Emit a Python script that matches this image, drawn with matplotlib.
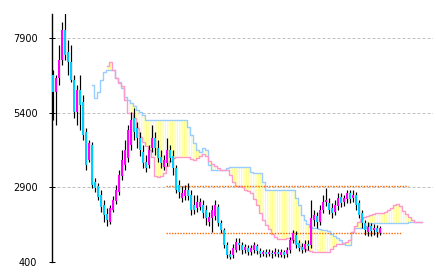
import matplotlib
matplotlib.use("Agg")
import matplotlib.pyplot as plt
import numpy as np

# candle prices, one per period
open_ = [6660, 6090, 6560, 7160, 8170, 7430, 7090, 6490, 5420, 6160,
         5750, 4750, 3810, 4320, 3080, 2940, 2640, 2310, 2010, 1740,
         2140, 2440, 2740, 3280, 3650, 3880, 4320, 5220, 4880, 4550,
         4080, 3750, 3650, 4220, 4550, 4220, 3910, 3580, 3710, 4150,
         3950, 3550, 2980, 2540, 2610, 2810, 2640, 2310, 2210, 2240,
         2310, 2140, 1740, 1870, 1940, 2240, 1710, 1470, 970, 670,
         630, 800, 1040, 970, 800, 870, 730, 800, 940, 770,
         670, 730, 670, 700, 670, 730, 630, 730, 670, 800,
         1140, 1300, 1040, 900, 830, 1000, 970, 1810, 1940, 1740,
         2140, 2410, 2380, 2210, 2070, 2270, 2580, 2410, 2510, 2710,
         2540, 2640, 2380, 2040, 1710, 1400, 1600, 1470, 1540, 1370]
close = [6090, 6560, 7160, 8170, 7330, 7090, 6490, 5420, 6160, 5650,
         4650, 3650, 4380, 2980, 2880, 2580, 2240, 1970, 1810, 2210,
         2480, 2810, 3310, 3810, 4150, 4820, 5150, 4750, 4550, 4150,
         3710, 3550, 4150, 4550, 4220, 3880, 3710, 3810, 4150, 3880,
         3550, 2810, 2740, 2710, 2810, 2610, 2140, 2140, 2410, 2410,
         2040, 1870, 1910, 2140, 2310, 1710, 1470, 970, 630, 570,
         870, 1070, 970, 800, 900, 730, 870, 970, 770, 670,
         730, 670, 730, 670, 730, 670, 730, 630, 800, 1140,
         1370, 970, 870, 800, 1000, 940, 1870, 1970, 1740, 2140,
         2410, 2480, 2140, 2040, 2310, 2540, 2380, 2540, 2710, 2510,
         2640, 2310, 1970, 1710, 1470, 1570, 1440, 1540, 1400, 1540]
high = [6830, 6660, 7660, 8430, 8730, 7830, 7660, 6660, 6320, 6660,
        5990, 4880, 4480, 4420, 3210, 3040, 2810, 2480, 2210, 2310,
        2610, 2980, 3480, 4150, 4480, 4990, 5420, 5550, 5090, 4750,
        4320, 3980, 4320, 4990, 4750, 4480, 4150, 3980, 4550, 4320,
        4150, 3650, 3140, 2940, 2980, 3040, 2810, 2640, 2640, 2540,
        2480, 2310, 2070, 2310, 2480, 2340, 1810, 1540, 1070, 800,
        1000, 1200, 1200, 1070, 1000, 970, 970, 1070, 1000, 870,
        800, 830, 830, 800, 870, 830, 830, 800, 900, 1240,
        1470, 1440, 1140, 1040, 1140, 1140, 2480, 2140, 2070, 2310,
        2640, 2880, 2540, 2380, 2480, 2710, 2710, 2640, 2810, 2810,
        2810, 2740, 2480, 2140, 1810, 1740, 1710, 1670, 1640, 1600]
low = [5150, 4990, 6320, 6990, 7160, 6660, 6420, 5220, 4990, 4820,
       4480, 3480, 3750, 2880, 2740, 2480, 2070, 1740, 1600, 1670,
       2070, 2340, 2640, 3140, 3480, 3750, 4150, 4480, 4220, 3950,
       3550, 3410, 3550, 4080, 3980, 3750, 3550, 3480, 3610, 3750,
       3310, 2710, 2540, 2410, 2480, 2480, 1970, 2010, 2070, 2140,
       1870, 1640, 1600, 1400, 1810, 1600, 1370, 870, 530, 500,
       530, 730, 800, 670, 700, 630, 630, 700, 670, 570,
       600, 570, 600, 530, 600, 570, 570, 530, 570, 700,
       1040, 870, 770, 700, 730, 800, 870, 1600, 1540, 1640,
       2040, 2270, 2010, 1870, 1970, 2140, 2240, 2270, 2380, 2380,
       2410, 2140, 1870, 1540, 1300, 1270, 1270, 1300, 1240, 1300]

# leading span (blue) and lagging span (pink), shifted ahead of the candles
span_a_start = 13
span_a = [6320, 5890, 6090, 6490, 6760, 6830, 6830, 6830, 6560, 6420,
          6220, 5920, 5820, 5720, 5620, 5490, 5420, 5320, 5150,
          5150, 5150, 5150, 5150, 5150, 5150, 5150, 5150, 5150, 5150,
          5150, 5150, 5150,
          4920, 4650, 4380, 4150, 4080, 4220, 4150, 3650,
          3480, 3480, 3480, 3480, 3480, 3550,
          3580, 3580, 3580, 3580, 3580, 3580, 3580,
          3410, 3380, 3380, 3380, 3080,
          2810, 2810, 2810, 2810, 2810, 2810, 2810, 2810, 2810, 2810,
          2540, 2310, 1970, 1810, 1670, 1570, 1540, 1540, 1500, 1470,
          1470, 1440, 1340, 1270, 1200, 1140, 1000, 970, 970,
          1400, 1540, 1540, 1540, 1540, 1600, 1710,
          1710, 1710, 1710, 1710, 1710, 1710, 1710, 1710, 1710, 1710,
          1710, 1710,
          1740, 1740, 1740, 1740, 1740]
span_b_start = 18
span_b = [6960, 7090, 6830, 6560, 6390, 6290, 5820, 5390, 5390, 5220,
          4880, 4580, 4420, 4280, 4150, 3910, 3280, 3240, 3280, 3380,
          3610, 3780, 3880,
          3910, 3910, 3910, 3910, 3910,
          3850, 3810, 3880, 3950, 4020, 3950, 3780, 3680, 3610, 3550,
          3480, 3480, 3480,
          3310, 3080, 2940, 2940, 2910, 2810, 2780, 2710, 2510, 2310,
          2040, 1810, 1640, 1500, 1340, 1240,
          1170, 1170, 1170,
          1200, 1200, 1140, 1040, 940, 870, 830, 800, 770,
          730, 730, 730, 730, 730, 730,
          830, 940, 1000, 1000, 1040, 1070, 1140, 1400, 1600, 1740,
          1840, 1910, 1940, 1970, 2010,
          2040, 2040, 2040,
          2070, 2140, 2210, 2310, 2340, 2270, 2110, 2010, 1910, 1810,
          1740, 1740, 1740]

# horizontal reference levels (orange dotted)
level_prices = [2940, 1370]
level_from = [37.5, 37.5]
level_to = [118.5, 116.5]

yticks = [400, 2900, 5400, 7900]

fig = plt.figure(figsize=(4.36, 2.76), dpi=100)
ax = fig.add_axes([52 / 436, 14 / 276, 381 / 436, 248 / 276])

px = 72 / 100  # one pixel in points

# grid
for y in yticks:
    ax.axhline(y, color="#c0c0c0", lw=px, linestyle=(0, (3, 2)), zorder=0)

# cloud: pale yellow vertical stripes between the two spans
xa = np.arange(span_a_start, span_a_start + len(span_a))
xb = np.arange(span_b_start, span_b_start + len(span_b))
a_common = np.array(span_a[span_b_start - span_a_start:])
plt.rcParams["hatch.linewidth"] = 0.8
ax.fill_between(xb, a_common, span_b, step="mid", facecolor="none",
                edgecolor="#ffff88", hatch="|" * 7, linewidth=0, zorder=1)
ax.plot(xa, span_a, drawstyle="steps-mid", color="#99ccff", lw=1.0, zorder=2)
ax.plot(xb, span_b, drawstyle="steps-mid", color="#ff99cc", lw=1.0, zorder=2)

# levels
for lv, x0, x1 in zip(level_prices, level_from, level_to):
    ax.hlines(lv, x0, x1, colors="#ff6600", lw=1.0, linestyles=(0, (1, 1)), zorder=3)

# candles
idx = np.arange(len(close))
o = np.array(open_)
c = np.array(close)
ax.vlines(idx, low, high, color="black", lw=px * 1.2, zorder=4)
colors = ["#ff00ff" if cc > oo else "#00ccff" for oo, cc in zip(o, c)]
ax.bar(idx, np.abs(c - o), bottom=np.minimum(o, c), width=0.75,
       color=colors, linewidth=0, zorder=5)

ax.set_xlim(-0.4, 126.7)
ax.set_ylim(400, 8700)
ax.set_yticks(yticks)
ax.set_yticklabels([str(t) for t in yticks])
ax.set_xticks([])
ax.tick_params(axis="y", direction="inout", length=4, width=px, pad=8.5,
               labelsize=7, colors="black")
for side in ["top", "right", "bottom"]:
    ax.spines[side].set_visible(False)
ax.spines["left"].set_linewidth(1.0)

fig.savefig("out.png", dpi=100)
